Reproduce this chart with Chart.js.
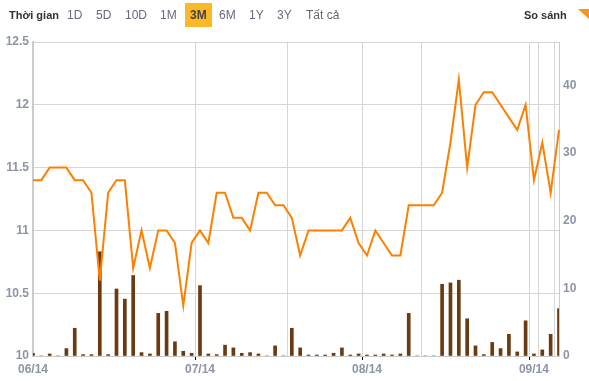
<!DOCTYPE html>
<html>
<head>
<meta charset="utf-8">
<script src="https://cdn.jsdelivr.net/npm/chart.js@4"></script>
<style>
  body { margin: 0; background: #fff; font-family: "Liberation Sans", Arial, sans-serif; }
  #wrap { position: relative; width: 589px; height: 381px; }
  #bar span { position: absolute; top: 8px; font-size: 12px; line-height: 14px; color: #666a80; }
  #bar .title { font-weight: bold; color: #333; font-size: 11px; }
  #bar .active { top: 3px; padding: 5px 5px 5px 5px; background: #fbb829; color: #444; font-weight: bold; }
  #bar .tri { top: 9px; left: 578px; width: 0; height: 0; border-left: 11px solid transparent; border-top: 10px solid #f7941d; }
  canvas { position: absolute; left: 0; top: 0; }
</style>
</head>
<body>
<div id="wrap">
  <canvas id="chart" width="589" height="381"></canvas>
  <div id="bar">
    <span class="title" style="left:9px">Thời gian</span>
    <span style="left:67px">1D</span>
    <span style="left:96px">5D</span>
    <span style="left:125px">10D</span>
    <span style="left:160px">1M</span>
    <span class="active" style="left:185px">3M</span>
    <span style="left:219px">6M</span>
    <span style="left:249px">1Y</span>
    <span style="left:277px">3Y</span>
    <span style="left:306px;color:#666">Tất cả</span>
    <span class="title" style="left:524px">So sánh</span>
    <span class="tri"></span>
  </div>
</div>
<script>
// gia dong cua (truc trai) va khoi luong (truc phai), 64 phien
const price = [11.4,11.4,11.5,11.5,11.5,11.4,11.4,11.3,10.6,11.3,
  11.4,11.4,10.7,11.0,10.7,11.0,11.0,10.9,10.4,10.9,
  11.0,10.9,11.3,11.3,11.1,11.1,11.0,11.3,11.3,11.2,
  11.2,11.1,10.8,11.0,11.0,11.0,11.0,11.0,11.1,10.9,
  10.8,11.0,10.9,10.8,10.8,11.2,11.2,11.2,11.2,11.3,
  11.7,12.2,11.5,12.0,12.1,12.1,12.0,11.9,11.8,12.0,
  11.4,11.7,11.3,11.8];
const volume = [0.4,0,0.3,0,1.1,4.1,0.2,0.2,15.4,0.2,
  9.9,8.4,11.9,0.5,0.3,6.3,6.6,2.1,0.7,0.4,
  10.4,0.3,0.2,1.6,1.2,0.4,0.5,0.3,0,1.5,
  0,4.1,1.2,0.15,0.15,0.15,0.4,1.2,0.15,0.3,
  0.15,0.15,0.3,0.15,0.3,6.3,0,0,0,10.6,
  10.8,11.2,5.5,1.5,0.2,2.0,1.1,3.2,0.6,5.2,
  0.3,0.9,3.2,7.0];
const xTicks = {0: '06/14', 20: '07/14', 40: '08/14', 60: '09/14'};
const xGrid = [0, 20, 31, 40, 47, 60, 61, 63];
const priceTicks = [10, 10.5, 11, 11.5, 12, 12.5];
const volumeTicks = [0, 10, 20, 30, 40];
const days = price.map((_, i) => i);

const tickFont = { family: 'Liberation Sans', size: 12, weight: 'bold' };
const tickColor = '#8d95a5';

new Chart(document.getElementById('chart'), {
  data: {
    labels: days,
    datasets: [
      {
        type: 'line',
        data: price,
        yAxisID: 'y',
        borderColor: '#ff7f00',
        borderWidth: 2,
        pointRadius: 0,
        tension: 0,
        order: 1
      },
      {
        type: 'bar',
        data: volume,
        yAxisID: 'y1',
        backgroundColor: '#6b3a10',
        barThickness: 3,
        order: 2
      }
    ]
  },
  options: {
    responsive: false,
    animation: false,
    layout: { padding: { top: 42, left: 0, right: 0, bottom: 0 } },
    plugins: { legend: { display: false }, tooltip: { enabled: false } },
    scales: {
      x: {
        type: 'category',
        offset: false,
        afterFit: s => { s.height = 25; },
        grid: {
          color: c => xGrid.includes(c.index) ? '#d6d6d6' : 'transparent',
          tickColor: c => (c.index in xTicks) ? '#000' : 'transparent',
          tickLength: 4,
          lineWidth: 1
        },
        border: { color: '#cccccc', width: 1 },
        ticks: {
          autoSkip: false,
          maxRotation: 0,
          padding: 2,
          font: tickFont,
          color: tickColor,
          callback: (v, i) => xTicks[i] || ''
        }
      },
      y: {
        position: 'left',
        min: 10,
        max: 12.5,
        afterFit: s => { s.width = 33; },
        afterBuildTicks: s => { s.ticks = priceTicks.map(v => ({ value: v })); },
        grid: { color: '#d6d6d6', drawTicks: false },
        border: { color: '#cccccc', width: 2 },
        ticks: { padding: 4, font: tickFont, color: tickColor, callback: v => String(v) }
      },
      y1: {
        position: 'right',
        min: 0,
        max: 46.4,
        afterFit: s => { s.width = 30; },
        afterBuildTicks: s => { s.ticks = volumeTicks.map(v => ({ value: v })); },
        grid: { drawOnChartArea: false, drawTicks: false },
        border: { color: '#cccccc', width: 1 },
        ticks: { padding: 4, font: tickFont, color: tickColor, callback: v => String(v) }
      }
    }
  }
});
</script>
</body>
</html>
